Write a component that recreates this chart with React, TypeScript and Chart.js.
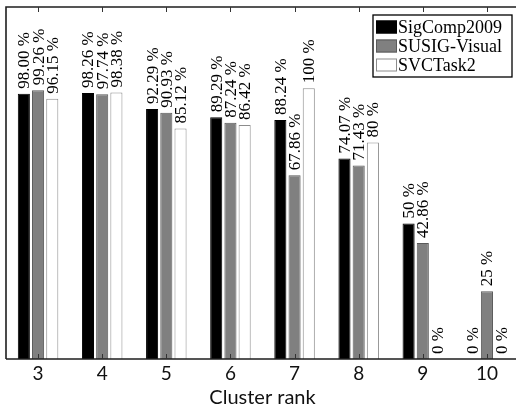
import { useEffect, useRef } from 'react';
import { Chart, registerables } from 'chart.js';

Chart.register(...registerables);

const clusterRanks = ['3', '4', '5', '6', '7', '8', '9', '10'];
const seriesNames = ['SigComp2009', 'SUSIG-Visual', 'SVCTask2'];
const sigCompValues = [98.0, 98.26, 92.29, 89.29, 88.24, 74.07, 50, 0];
const susigValues = [99.26, 97.74, 90.93, 87.24, 67.86, 71.43, 42.86, 25];
const svcValues = [96.15, 98.38, 85.12, 86.42, 100, 80, 0, 0];
const sigCompLabels = ['98.00 %', '98.26 %', '92.29 %', '89.29 %', '88.24 %', '74.07 %', '50 %', '0 %'];
const susigLabels = ['99.26 %', '97.74 %', '90.93 %', '87.24 %', '67.86 %', '71.43 %', '42.86 %', '25 %'];
const svcLabels = ['96.15 %', '98.38 %', '85.12 %', '86.42 %', '100 %', '80 %', '0 %', '0 %'];
const valueLabels = [sigCompLabels, susigLabels, svcLabels];

const fills = ['#000000', '#808080', '#ffffff'];
const borders = ['#000000', '#5a5a5a', '#8c8c8c'];

const SERIF = '"Liberation Serif", "DejaVu Serif", serif';
const SANS = 'Lato, "Noto Sans", sans-serif';

const framePlugin = {
  id: 'framePlugin',
  afterDatasetsDraw(chart: any) {
    const { ctx, chartArea, scales } = chart;
    const { left, right, top, bottom } = chartArea;
    const x = scales.x;

    // value labels
    ctx.save();
    ctx.font = '17px ' + SERIF;
    ctx.fillStyle = '#000';
    ctx.textAlign = 'left';
    ctx.textBaseline = 'alphabetic';
    chart.data.datasets.forEach((_ds: any, i: number) => {
      const meta = chart.getDatasetMeta(i);
      meta.data.forEach((bar: any, j: number) => {
        const text = valueLabels[i][j];
        ctx.save();
        ctx.translate(bar.x, bar.y - 5);
        ctx.rotate(-Math.PI / 2);
        ctx.fillText(text, 0, 5.5);
        ctx.restore();
      });
    });
    ctx.restore();

    // frame
    ctx.save();
    ctx.strokeStyle = '#1e1e1e';
    ctx.lineWidth = 1.6;
    ctx.beginPath();
    ctx.moveTo(left, bottom);
    ctx.lineTo(left, top);
    ctx.lineTo(right, top);
    ctx.moveTo(left, bottom);
    ctx.lineTo(right, bottom);
    ctx.stroke();
    ctx.lineWidth = 1;
    ctx.strokeStyle = '#333';
    ctx.beginPath();
    x.ticks.forEach((_t: any, k: number) => {
      const px = Math.round(x.getPixelForTick(k)) + 0.5;
      ctx.moveTo(px, top);
      ctx.lineTo(px, top + 5);
      ctx.moveTo(px, bottom);
      ctx.lineTo(px, bottom - 5);
    });
    ctx.stroke();
    ctx.restore();

    // legend
    ctx.save();
    const boxRight = right - 7;
    const boxLeft = boxRight - 139;
    const boxTop = top + 8;
    const boxH = 62;
    ctx.fillStyle = '#fff';
    ctx.fillRect(boxLeft, boxTop, boxRight - boxLeft, boxH);
    ctx.strokeStyle = '#000';
    ctx.lineWidth = 1.3;
    ctx.strokeRect(boxLeft, boxTop, boxRight - boxLeft, boxH);
    ctx.font = '18px ' + SERIF;
    ctx.textAlign = 'left';
    ctx.textBaseline = 'middle';
    chart.data.datasets.forEach((ds: any, i: number) => {
      const cy = boxTop + 12 + i * 19;
      ctx.fillStyle = ds.backgroundColor;
      ctx.fillRect(boxLeft + 3, cy - 6.5, 21, 13);
      ctx.strokeStyle = ds.borderColor;
      ctx.lineWidth = 1;
      ctx.strokeRect(boxLeft + 3.5, cy - 6, 20, 12);
      ctx.fillStyle = '#000';
      ctx.fillText(ds.label, boxLeft + 25, cy + 1);
    });
    ctx.restore();
  },
};

export default function App() {
  const ref = useRef<HTMLCanvasElement | null>(null);

  useEffect(() => {
    if (!ref.current) return;
    const seriesValues = [sigCompValues, susigValues, svcValues];
    const chart = new Chart(ref.current, {
      type: 'bar',
      data: {
        labels: clusterRanks,
        datasets: seriesNames.map((name, i) => ({
          label: name,
          data: seriesValues[i],
          backgroundColor: fills[i],
          borderColor: borders[i],
          borderWidth: 1,
          barPercentage: 0.85,
          categoryPercentage: 0.665,
        })),
      },
      options: {
        responsive: false,
        animation: false,
        devicePixelRatio: 1,
        layout: { padding: { top: 7, left: 6, right: 1, bottom: 0 } },
        plugins: {
          legend: { display: false },
          tooltip: { enabled: false },
        },
        scales: {
          x: {
            grid: { display: false, drawTicks: false },
            border: { display: false },
            ticks: {
              padding: 3,
              color: '#111',
              font: { family: SANS, size: 19 },
              maxRotation: 0,
            },
            title: {
              display: true,
              text: 'Cluster rank',
              color: '#111',
              font: { family: SANS, size: 20 },
              padding: { top: 0, bottom: 1 },
            },
            afterFit: (scale: any) => {
              scale.height = 52;
            },
          },
          y: {
            display: false,
            min: 0,
            max: 130,
          },
        },
      },
      plugins: [framePlugin],
    });
    return () => chart.destroy();
  }, []);

  return (
    <div style={{ position: 'absolute', left: 0, top: 0, width: 516, height: 411, overflow: 'hidden', background: '#fff' }}>
      <canvas ref={ref} width={520} height={411} style={{ width: 520, height: 411, display: 'block' }} />
    </div>
  );
}
